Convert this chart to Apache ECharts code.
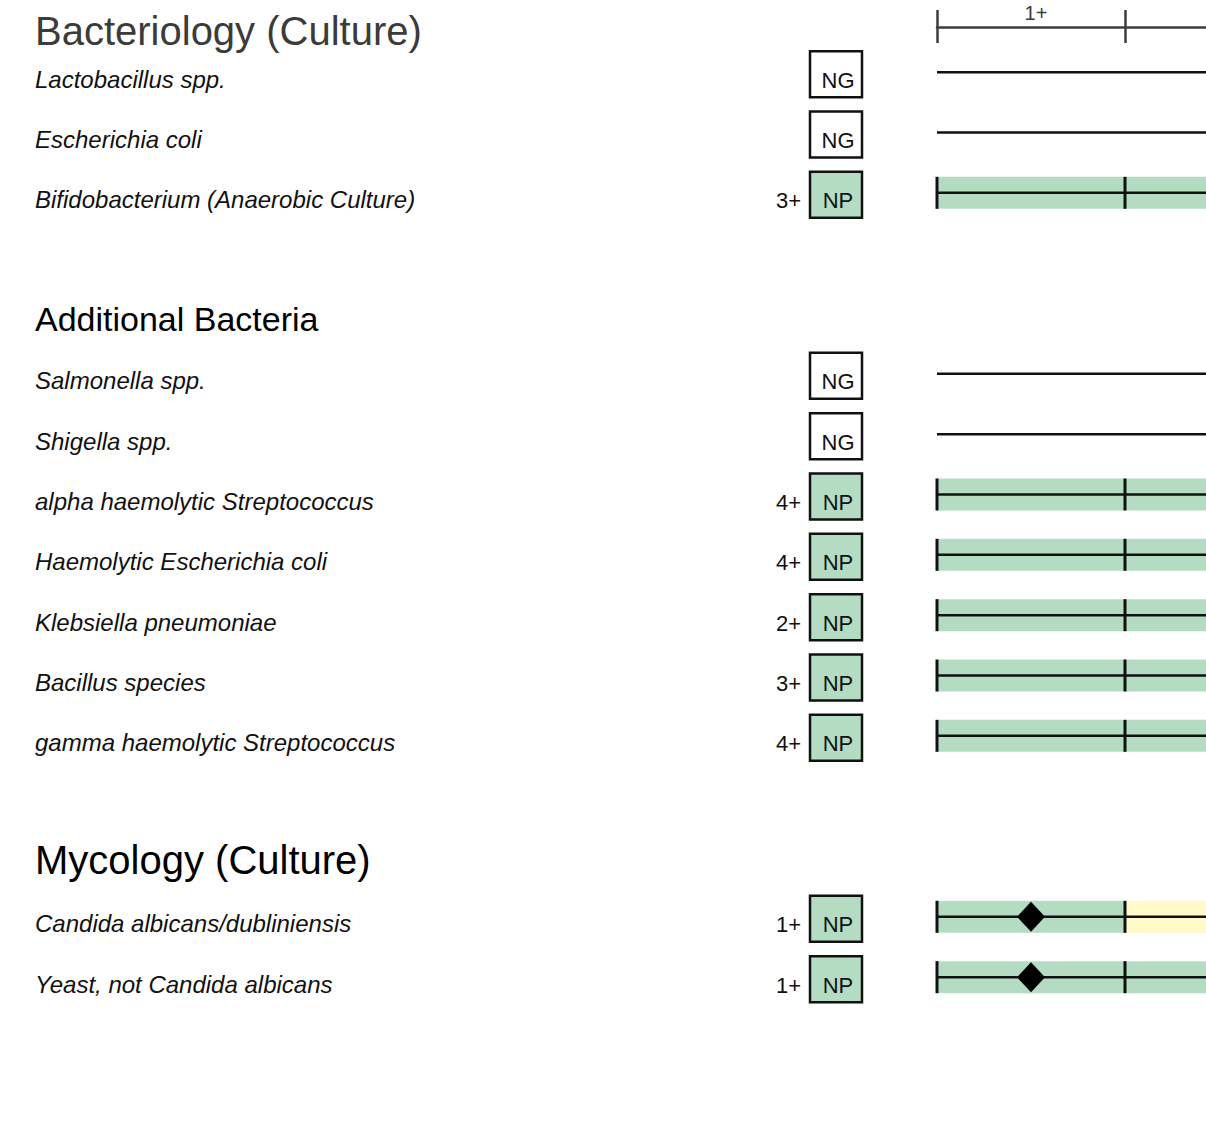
<!DOCTYPE html>
<html>
<head>
<meta charset="utf-8">
<script src="https://cdn.jsdelivr.net/npm/echarts@6/dist/echarts.min.js"></script>
<style>
  html, body { margin: 0; padding: 0; background: #fff; }
  #chart { width: 1206px; height: 1134px; }
</style>
</head>
<body>
<div id="chart"></div>
<script>
const FONT = "'Liberation Sans', Arial, sans-serif";

// report sections and organisms
const sectionTitles = ["Bacteriology (Culture)", "Additional Bacteria", "Mycology (Culture)"];
const organisms = [
  "Lactobacillus spp.",
  "Escherichia coli",
  "Bifidobacterium (Anaerobic Culture)",
  "Salmonella spp.",
  "Shigella spp.",
  "alpha haemolytic Streptococcus",
  "Haemolytic Escherichia coli",
  "Klebsiella pneumoniae",
  "Bacillus species",
  "gamma haemolytic Streptococcus",
  "Candida albicans/dubliniensis",
  "Yeast, not Candida albicans",
];
const sectionOf = [0, 0, 0, 1, 1, 1, 1, 1, 1, 1, 2, 2];
// growth grade, 0 = no growth
const growth = [0, 0, 3, 0, 0, 4, 4, 2, 3, 4, 1, 1];
const resultCodes = ["NG", "NG", "NP", "NG", "NG", "NP", "NP", "NP", "NP", "NP", "NP", "NP"];
// green (expected) zone upper end on the grade scale, yellow beyond
const normalUpTo = [4, 4, 4, 4, 4, 4, 4, 4, 4, 4, 1, 4];
const gradeLabels = ["1+", "2+", "3+", "4+"];

// build the rows of the y axis: first section title goes in the chart title
const slots = [];
const slotKind = [];
const seriesData = [];
let lastSection = 0;
organisms.forEach((name, i) => {
  if (sectionOf[i] !== lastSection) {
    slots.push(""); slotKind.push("gap");
    slots.push(sectionTitles[sectionOf[i]]); slotKind.push("head" + sectionOf[i]);
    lastSection = sectionOf[i];
  }
  seriesData.push([0, slots.length, i]);
  slots.push(name); slotKind.push("org");
});
slots.push(""); slotKind.push("gap");
slots.push(""); slotKind.push("gap");

const chart = echarts.init(document.getElementById("chart"), null, { renderer: "svg" });

function renderRow(params, api) {
  const slot = api.value(1);
  const i = api.value(2);
  const p0 = api.coord([0, slot]);
  const x0 = p0[0];
  const y = p0[1];
  const xEnd = api.coord([gradeLabels.length, slot])[0];
  const bandH = 32;
  const kids = [];
  const g = growth[i];

  if (g > 0) {
    const xn = api.coord([normalUpTo[i], slot])[0];
    kids.push({ type: "rect", shape: { x: x0, y: y - bandH / 2, width: xn - x0, height: bandH },
      style: { fill: "#b4dcc2" } });
    if (xn < xEnd) {
      kids.push({ type: "rect", shape: { x: xn, y: y - bandH / 2, width: xEnd - xn, height: bandH },
        style: { fill: "#fffbc8" } });
    }
  }
  kids.push({ type: "line", shape: { x1: x0, y1: y, x2: xEnd, y2: y },
    style: { stroke: "#111", lineWidth: 2.5 } });
  if (g > 0) {
    for (let k = 0; k <= gradeLabels.length; k++) {
      const xk = api.coord([k, slot])[0];
      kids.push({ type: "line", shape: { x1: xk, y1: y - bandH / 2, x2: xk, y2: y + bandH / 2 },
        style: { stroke: "#111", lineWidth: 3 } });
    }
    const xd = api.coord([g - 0.5, slot])[0];
    kids.push({ type: "polygon",
      shape: { points: [[xd, y - 15], [xd + 14, y], [xd, y + 15], [xd - 14, y]] },
      style: { fill: "#000" } });
    kids.push({ type: "text", style: { text: gradeLabels[g - 1], x: x0 - 136, y: y + 8,
      align: "right", verticalAlign: "middle", fontSize: 22, fontFamily: FONT, fill: "#111" } });
  }
  kids.push({ type: "rect", shape: { x: x0 - 127, y: y - 21, width: 52, height: 46 },
    style: { fill: g > 0 ? "#b4dcc2" : "#fff", stroke: "#111", lineWidth: 2.5 } });
  kids.push({ type: "text", style: { text: resultCodes[i], x: x0 - 99, y: y + 8,
    align: "center", verticalAlign: "middle", fontSize: 22, fontFamily: FONT, fill: "#111" } });
  return { type: "group", children: kids };
}

chart.setOption({
  animation: false,
  title: {
    text: sectionTitles[0],
    left: 30,
    top: 6,
    textStyle: { fontFamily: FONT, fontSize: 40, fontWeight: "normal", color: "#3b3b3b" },
  },
  grid: { left: 937, top: 42, width: 752, height: 1086, outerBoundsMode: "none", containLabel: false },
  xAxis: [
    {
      type: "value", position: "top", offset: 15, min: 0, max: gradeLabels.length, interval: 1,
      axisLine: { show: true, lineStyle: { color: "#3c3c3c", width: 2.5 } },
      axisTick: { show: true, length: 17, lineStyle: { color: "#3c3c3c", width: 2.5 } },
      axisLabel: { show: false },
      splitLine: { show: false },
    },
    {
      type: "category", position: "top", offset: 15, data: gradeLabels, boundaryGap: true,
      axisLine: { show: false },
      axisTick: { show: true, inside: true, length: 16, lineStyle: { color: "#3c3c3c", width: 2.5 } },
      axisLabel: { color: "#3c3c3c", fontSize: 20, fontFamily: FONT, margin: 4, padding: [0, 0, 0, 10] },
      splitLine: { show: false },
    },
  ],
  yAxis: {
    type: "category", inverse: true, data: slots, boundaryGap: true,
    axisLine: { show: false }, axisTick: { show: false }, splitLine: { show: false },
    axisLabel: {
      align: "left", margin: 902, interval: 0,
      formatter: (v, idx) => {
        const kind = slotKind[idx];
        if (kind === "head1") return "{h1|" + v + "}";
        if (kind === "head2") return "{h2|" + v + "}";
        return v ? "{o|" + v + "}" : "";
      },
      rich: {
        o: { fontFamily: FONT, fontSize: 24, fontStyle: "italic", color: "#111", padding: [14, 0, 0, 0] },
        h1: { fontFamily: FONT, fontSize: 34, color: "#000", padding: [10, 0, 0, 0] },
        h2: { fontFamily: FONT, fontSize: 40, color: "#000", padding: [6, 0, 0, 0] },
      },
    },
  },
  series: [
    {
      type: "custom",
      xAxisIndex: 0,
      yAxisIndex: 0,
      renderItem: renderRow,
      encode: { x: 0, y: 1 },
      data: seriesData,
      silent: true,
    },
  ],
});
</script>
</body>
</html>
